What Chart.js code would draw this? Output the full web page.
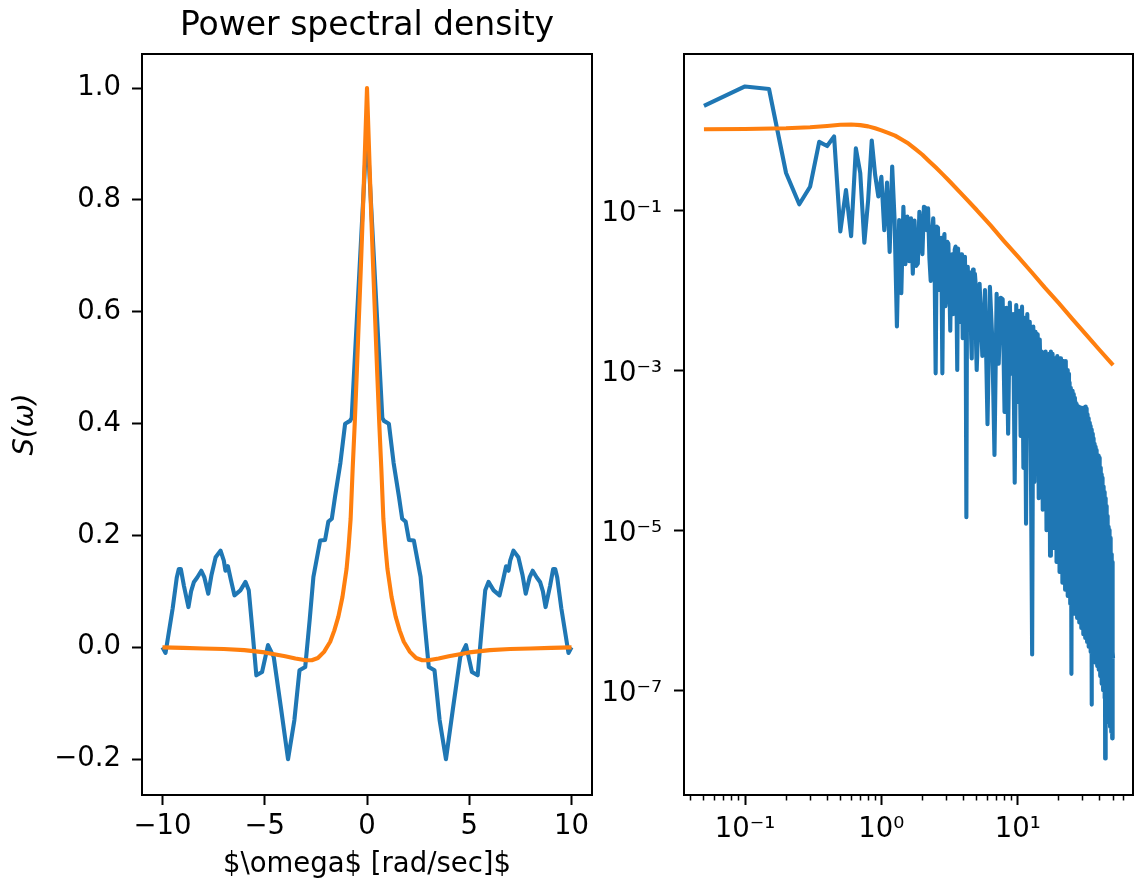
<!DOCTYPE html>
<html>
<head>
<meta charset="utf-8">
<title>Power spectral density</title>
<script src="https://cdn.jsdelivr.net/npm/chart.js@4.4.1/dist/chart.umd.min.js"></script>
<style>
  html, body { margin: 0; padding: 0; background: #fff; }
  #wrap { position: relative; width: 1135px; height: 880px; }
  canvas { position: absolute; top: 0; }
  #left { left: 0; }
  #right { left: 600px; }
</style>
</head>
<body>
<div id="wrap">
  <canvas id="left" width="600" height="880"></canvas>
  <canvas id="right" width="535" height="880"></canvas>
</div>
<script>
// ---- left panel: S(omega) vs omega ----
const omegaBlue = [
  -10, -9.85, -9.5, -9.3, -9.2, -9.1, -8.95, -8.73, -8.6, -8.46, -8.3, -8.1, -7.95, -7.76, -7.6, -7.4,
  -7.16, -7.0, -6.92, -6.8, -6.65, -6.48, -6.19, -5.94, -5.78, -5.6, -5.41, -5.13, -4.84, -4.56,
  -4.2, -3.86, -3.55, -3.3, -3.02, -2.8, -2.62, -2.29, -2.05, -1.89, -1.72, -1.56, -1.3, -1.07, -0.83, -0.75,
  0,
  0.75, 0.83, 1.07, 1.3, 1.56, 1.72, 1.89, 2.05, 2.29, 2.62, 2.8, 3.02, 3.3, 3.55, 3.86, 4.2,
  4.56, 4.84, 5.13, 5.41, 5.6, 5.78, 5.94, 6.19, 6.48, 6.65, 6.8, 6.92, 7.0, 7.16,
  7.4, 7.6, 7.76, 7.95, 8.1, 8.3, 8.46, 8.6, 8.73, 8.95, 9.1, 9.2, 9.3, 9.5, 9.85, 10
];
const psdBlue = [
  0.0, -0.01, 0.07, 0.125, 0.14, 0.14, 0.11, 0.072, 0.10, 0.117, 0.125, 0.137, 0.125, 0.096, 0.13, 0.161,
  0.173, 0.155, 0.137, 0.145, 0.12, 0.093, 0.102, 0.117, 0.102, 0.03, -0.05, -0.044, 0.004, -0.017,
  -0.11, -0.2, -0.13, -0.041, -0.035, 0.05, 0.126, 0.191, 0.192, 0.225, 0.23, 0.27, 0.33, 0.40, 0.405, 0.41,
  0.93,
  0.41, 0.405, 0.40, 0.33, 0.27, 0.23, 0.225, 0.192, 0.191, 0.126, 0.05, -0.035, -0.041, -0.13, -0.2, -0.11,
  -0.017, 0.004, -0.044, -0.05, 0.03, 0.102, 0.117, 0.102, 0.093, 0.12, 0.145, 0.137, 0.155, 0.173,
  0.161, 0.13, 0.096, 0.125, 0.137, 0.125, 0.117, 0.10, 0.072, 0.11, 0.14, 0.14, 0.125, 0.07, -0.01, 0.0
];
const omegaOrange = [
  -10, -9, -8, -7, -6, -5, -4, -3.5, -3, -2.7, -2.4, -2.1, -1.8, -1.6, -1.4, -1.2, -1, -0.9, -0.8,
  -0.7, -0.6, -0.5, -0.4, -0.3, -0.2, -0.1, 0,
  0.1, 0.2, 0.3, 0.4, 0.5, 0.6, 0.7, 0.8, 0.9, 1, 1.2, 1.4, 1.6, 1.8, 2.1, 2.4, 2.7, 3, 3.5, 4,
  5, 6, 7, 8, 9, 10
];
const psdOrange = [
  0, -0.001, -0.002, -0.003, -0.005, -0.009, -0.016, -0.02, -0.023, -0.023, -0.019, -0.008, 0.01,
  0.03, 0.055, 0.09, 0.14, 0.18, 0.23, 0.32, 0.40, 0.49, 0.585, 0.68, 0.78, 0.89, 1.0,
  0.89, 0.78, 0.68, 0.585, 0.49, 0.40, 0.32, 0.23, 0.18, 0.14, 0.09, 0.055, 0.03, 0.01, -0.008,
  -0.019, -0.023, -0.023, -0.02, -0.016, -0.009, -0.005, -0.003, -0.002, -0.001, 0
];
const leftXTicks = [-10, -5, 0, 5, 10];
const leftXLabels = ['\u221210', '\u22125', '0', '5', '10'];
const leftYTicks = [-0.2, 0, 0.2, 0.4, 0.6, 0.8, 1.0];
const leftYLabels = ['\u22120.2', '0.0', '0.2', '0.4', '0.6', '0.8', '1.0'];

// ---- right panel: log-log ----
const freqBlue = [
  0.05, 0.1, 0.15, 0.2, 0.25, 0.3, 0.35, 0.4, 0.45, 0.5, 0.55, 0.6, 0.65, 0.7, 0.75, 0.8, 0.85,
  0.9, 0.95, 1.0, 1.05, 1.1, 1.15, 1.2, 1.25, 1.3, 1.35, 1.4, 1.45, 1.5, 1.55, 1.6, 1.65, 1.7, 1.75,
  1.8, 1.85, 1.9, 1.95, 2.0, 2.05, 2.1, 2.15, 2.2, 2.25, 2.3, 2.35, 2.4, 2.45, 2.5, 2.55, 2.6,
  2.65, 2.7, 2.75, 2.8, 2.85, 2.9, 2.95, 3.0, 3.05, 3.1, 3.15, 3.2, 3.25, 3.3, 3.35, 3.4,
  3.45, 3.5, 3.55, 3.6, 3.65, 3.7, 3.75, 3.8, 3.85, 3.9, 3.95, 4.0, 4.05, 4.1, 4.15, 4.2,
  4.25, 4.3, 4.35, 4.4, 4.45, 4.5, 4.55, 4.6, 4.65, 4.7, 4.75, 4.8, 4.85, 4.9, 4.95, 5.0,
  5.25, 5.5, 5.75, 6, 6.25, 6.5, 6.75, 7, 7.25, 7.5, 7.75, 8, 8.25, 8.5, 8.75, 9,
  9.25, 9.5, 9.75, 10, 10.25, 10.5, 10.75, 11, 11.25, 11.5, 11.75, 12, 12.25, 12.5, 12.75, 13,
  13.25, 13.5, 13.75, 14, 14.25, 14.5, 14.75, 15, 15.25, 15.5, 15.75, 16, 16.25, 16.5, 16.75, 17,
  17.25, 17.5, 17.75, 18, 18.25, 18.5, 18.75, 19, 19.25, 19.5, 19.75, 20, 20.25, 20.5, 20.75, 21,
  21.25, 21.5, 21.75, 22, 22.25, 22.5, 22.75, 23, 23.25, 23.5, 23.75, 24, 24.25, 24.5, 24.75, 25,
  25.25, 25.5, 25.75, 26, 26.25, 26.5, 26.75, 27, 27.25, 27.5, 27.75, 28, 28.25, 28.5, 28.75, 29,
  29.25, 29.5, 29.75, 30, 30.25, 30.5, 30.75, 31, 31.25, 31.5, 31.75, 32, 32.25, 32.5, 32.75, 33,
  33.25, 33.5, 33.75, 34, 34.25, 34.5, 34.75, 35, 35.25, 35.5, 35.75, 36, 36.25, 36.5, 36.75, 37,
  37.25, 37.5, 37.75, 38, 38.25, 38.5, 38.75, 39, 39.25, 39.5, 39.75, 40, 40.25, 40.5, 40.75, 41,
  41.25, 41.5, 41.75, 42, 42.25, 42.5, 42.75, 43, 43.25, 43.5, 43.75, 44, 44.25, 44.5, 44.75, 45,
  45.25, 45.5, 45.75, 46, 46.25, 46.5, 46.75, 47, 47.25, 47.5, 47.75, 48, 48.25, 48.5, 48.75, 49,
  49.25, 49.5, 49.75, 50
];
const spectrumBlue = [
  2.0, 3.5, 3.25, 0.29, 0.118, 0.195, 0.71, 0.63, 0.83, 0.054, 0.178, 0.047, 0.59, 0.29, 0.039, 0.133, 0.74,
  0.275, 0.148, 0.26, 0.056, 0.22, 0.030, 0.35, 0.075, 0.0035, 0.075, 0.0091, 0.11, 0.021, 0.083, 0.023, 0.079, 0.016, 0.074,
  0.020, 0.0214, 0.095, 0.040, 0.028, 0.11, 0.107, 0.056, 0.105, 0.025, 0.013, 0.050, 0.079, 0.032, 9.1e-4, 0.062, 0.060,
  0.010, 0.018, 0.045, 9.1e-4, 0.040, 0.050, 6.3e-3, 0.010, 0.040, 0.038, 0.0126, 3.1e-3, 0.025, 0.028, 5.0e-3, 7.9e-3,
  0.032, 0.035, 0.010, 1.0e-3, 0.033, 0.033, 6.3e-3, 4.0e-3, 0.028, 0.024, 2.5e-3, 8.9e-3, 0.022, 0.026, 5.0e-3, 1.45e-5,
  0.018, 0.0195, 7.9e-3, 3.2e-3, 0.0166, 0.016, 2.5e-3, 1.4e-3, 0.014, 0.018, 4.0e-3, 5.0e-3, 0.016, 0.0126, 2.0e-3, 1.0e-3,
  1.2e-2, 1.5e-3, 1.0e-2, 2.1e-4, 1.1e-2, 2.5e-3, 8.7e-5, 9e-3, 1.2e-3, 8e-3, 7.7e-3, 3e-4, 6e-3, 1.6e-4, 7e-3, 9e-4,
  5e-3, 3.9e-5, 6.5e-3, 4e-4, 5.5e-3, 1.5e-4, 6.2e-3, 6e-5, 4.5e-3, 1.2e-5, 5e-3, 2e-4, 4e-3, 5e-5, 2.8e-7, 3.5e-3,
  4e-5, 3e-3, 2e-4, 2.8e-3, 2.5e-5, 2.4e-3, 6e-4, 1.7e-3, 1.8e-5, 1.5e-3, 9e-5, 1.7e-3, 1e-5, 1.2e-3, 3e-4, 1.6e-3,
  4.8e-6, 1.7e-3, 5e-5, 1.6e-3, 6e-6, 1.4e-3, 2e-4, 1.2e-3, 4e-6, 1.5e-3, 3e-5, 1.3e-3, 3e-6, 1.4e-3, 1e-4, 1.1e-3,
  2.2e-6, 1.3e-3, 4e-5, 1.2e-3, 1.8e-6, 1.3e-3, 2e-4, 1e-3, 1.5e-6, 9e-4, 1.5e-5, 7e-4, 1.2e-6, 6e-4, 1.6e-7, 5.5e-4,
  1e-6, 5e-4, 3e-5, 4.5e-4, 9e-7, 4e-4, 6e-5, 3.8e-4, 8e-7, 3.5e-4, 5e-6, 3.5e-4, 7e-7, 3.2e-4, 2e-5, 3.4e-4,
  6e-7, 3e-4, 1e-5, 3.3e-4, 5e-7, 3.4e-4, 4e-5, 3e-4, 4.5e-7, 3.5e-4, 8e-6, 3.3e-4, 4e-7, 2.8e-4, 3e-5, 2.5e-4,
  3.5e-7, 2.2e-4, 6e-6, 2e-4, 3e-7, 1.8e-4, 6.6e-8, 1.7e-4, 2.8e-7, 1.6e-4, 2e-5, 1.4e-4, 2.5e-7, 1.2e-4, 4e-6, 1.1e-4,
  2.2e-7, 1e-4, 1e-5, 9e-5, 2e-7, 8.7e-5, 3e-6, 8.5e-5, 1.8e-7, 8e-5, 6e-6, 7e-5, 1.5e-7, 6e-5, 2e-6, 5e-5,
  1.2e-7, 4.5e-5, 5e-6, 4e-5, 1e-7, 3.5e-5, 1e-6, 3e-5, 8e-8, 2.7e-5, 1.4e-8, 2.5e-5, 7e-8, 2e-5, 1.7e-5, 6e-8,
  1.5e-5, 5e-8, 1.3e-5, 4e-7, 1.1e-5, 4e-8, 1e-5, 1e-6, 9e-6, 3.5e-8, 8e-6, 5e-7, 7e-6, 3e-8, 5e-6, 4.3e-6,
  2.5e-8, 4e-6, 3e-7, 2.5e-7
];
const freqOrange = [
  0.05, 0.1, 0.2, 0.3, 0.4, 0.5, 0.6, 0.7, 0.8, 0.9, 1.0, 1.12, 1.26, 1.41, 1.58, 1.78, 2.0, 2.24,
  2.51, 2.82, 3.16, 3.98, 5.0, 6.3, 7.9, 10, 12.6, 15.8, 20, 25.1, 31.6, 39.8, 50
];
const spectrumOrange = [
  1.02, 1.03, 1.05, 1.08, 1.12, 1.16, 1.17, 1.15, 1.11, 1.05, 0.99, 0.92, 0.85, 0.76, 0.676, 0.575,
  0.49, 0.407, 0.339, 0.279, 0.229, 0.151, 0.1, 0.0646, 0.0412, 0.0263, 0.0168, 0.0107, 6.84e-3,
  4.37e-3, 2.79e-3, 1.78e-3, 1.15e-3
];
const rightXTicks = [0.1, 1, 10];
const rightXLabels = ['10\u207B\u00B9', '10\u2070', '10\u00B9'];
const rightXMinor = [0.04, 0.05, 0.06, 0.07, 0.08, 0.09, 0.2, 0.3, 0.4, 0.5, 0.6, 0.7, 0.8, 0.9,
  2, 3, 4, 5, 6, 7, 8, 9, 20, 30, 40, 50, 60];
const rightYTicks = [1e-7, 1e-5, 1e-3, 1e-1];
const rightYLabels = ['10\u207B\u2077', '10\u207B\u2075', '10\u207B\u00B3', '10\u207B\u00B9'];

const BLUE = '#1f77b4';
const ORANGE = '#ff7f0e';
const TICK_FONT = { size: 27.5 };

Chart.defaults.font.family = 'DejaVu Sans';
Chart.defaults.color = '#000';

function pts(xs, ys) {
  return xs.map((x, i) => ({ x: x, y: ys[i] }));
}

function line(data, color, order) {
  return {
    data: data,
    borderColor: color,
    borderWidth: 4.1,
    pointRadius: 0,
    tension: 0,
    fill: false,
    borderJoinStyle: 'round',
    order: order
  };
}

// axis with fixed tick positions, outward tick marks, black spine
function axis(type, min, max, ticks, labels, extra) {
  return Object.assign({
    type: type,
    min: min,
    max: max,
    afterBuildTicks: s => { s.ticks = ticks.map(v => ({ value: v })); },
    grid: { display: true, drawOnChartArea: false, drawTicks: true, tickLength: 10, tickWidth: 2, tickColor: '#000' },
    border: { display: true, color: '#000', width: 2 },
    ticks: {
      font: TICK_FONT, color: '#000', padding: 5, autoSkip: false, maxRotation: 0, minRotation: 0,
      callback: (v, i) => labels[i]
    }
  }, extra || {});
}

const frame = {
  id: 'frame',
  afterDraw(chart) {
    const a = chart.chartArea;
    const ctx = chart.ctx;
    ctx.save();
    ctx.strokeStyle = '#000';
    ctx.lineWidth = 2;
    ctx.strokeRect(a.left, a.top, a.right - a.left, a.bottom - a.top);
    ctx.restore();
  }
};

const common = {
  responsive: false,
  animation: false,
  devicePixelRatio: 1,
  events: []
};

const leftY = axis('linear', -0.264, 1.061, leftYTicks, leftYLabels, {
  afterFit: s => { s.width = 142; },
  title: {
    display: true,
    text: 'S(\u03C9)',
    color: '#000',
    font: { size: 27.5, style: 'italic' },
    padding: { top: 9, bottom: 0 }
  }
});
leftY.ticks.padding = 11;

new Chart(document.getElementById('left'), {
  type: 'line',
  data: {
    datasets: [
      line(pts(omegaBlue, psdBlue), BLUE, 1),
      line(pts(omegaOrange, psdOrange), ORANGE, 0)
    ]
  },
  options: Object.assign({}, common, {
    layout: { padding: { top: 0, right: 8, bottom: 0, left: 0 } },
    plugins: {
      legend: { display: false },
      tooltip: { enabled: false },
      title: {
        display: true,
        text: 'Power spectral density',
        fullSize: false,
        color: '#000',
        font: { size: 33, weight: 'normal', lineHeight: 1.2 },
        padding: { top: 7, bottom: 7.4 }
      }
    },
    scales: {
      x: axis('linear', -11, 11, leftXTicks, leftXLabels, {
        afterFit: s => { s.height = 85; },
        title: {
          display: true,
          text: '$\\omega$ [rad/sec]$',
          color: '#000',
          font: { size: 27.5, lineHeight: 1.1 },
          padding: { top: 0, bottom: 0 }
        }
      }),
      y: leftY
    }
  }),
  plugins: [frame]
});

const rightX = axis('logarithmic', 0.0357, 70, rightXTicks, rightXLabels, {
  weight: 1,
  afterFit: s => { s.height = 85; }
});
rightX.ticks.padding = 8;

const rightY = axis('logarithmic', 4.9e-9, 8.9, rightYTicks, rightYLabels, {
  afterFit: s => { s.width = 84; }
});
rightY.ticks.padding = 12;
rightY.ticks.labelOffset = 4;

new Chart(document.getElementById('right'), {
  type: 'line',
  data: {
    datasets: [
      line(pts(freqBlue, spectrumBlue), BLUE, 1),
      line(pts(freqOrange, spectrumOrange), ORANGE, 0)
    ]
  },
  options: Object.assign({}, common, {
    layout: { padding: { top: 54, right: 2, bottom: 0, left: 0 } },
    plugins: { legend: { display: false }, tooltip: { enabled: false } },
    scales: {
      x: rightX,
      xMinor: {
        type: 'logarithmic',
        position: 'bottom',
        min: 0.0357,
        max: 70,
        weight: 0,
        afterBuildTicks: s => { s.ticks = rightXMinor.map(v => ({ value: v })); },
        afterFit: s => { s.height = 0; },
        grid: { display: true, drawOnChartArea: false, drawTicks: true, tickLength: 5.5, tickWidth: 1.5, tickColor: '#000' },
        border: { display: false },
        ticks: { display: false }
      },
      y: rightY
    }
  }),
  plugins: [frame]
});
</script>
</body>
</html>
